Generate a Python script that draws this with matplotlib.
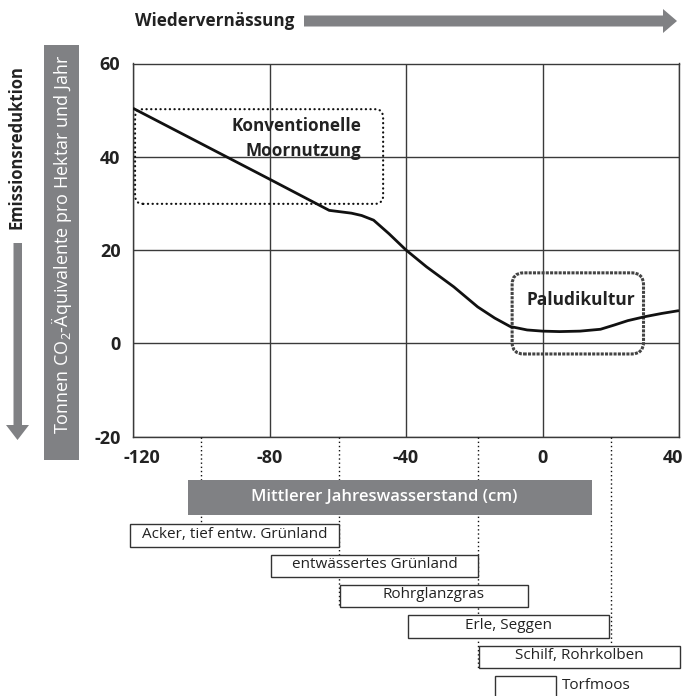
import numpy as np
import matplotlib
matplotlib.use("Agg")
import matplotlib.pyplot as plt
from matplotlib.patches import FancyBboxPatch, Polygon, Rectangle
from matplotlib.transforms import ScaledTranslation

plt.rcParams["font.family"] = ["Open Sans", "DejaVu Sans"]
plt.rcParams["mathtext.fontset"] = "custom"
plt.rcParams["mathtext.rm"] = "Open Sans"

# emission curve (water level cm, t CO2-eq / ha / yr)
water_level = [-120, -100, -80, -62.5, -56, -53, -49.5, -45, -40, -34, -26, -19,
               -14, -9.5, -4.5, 0, 5, 11, 17, 21, 25, 30, 35, 40]
emissions = [50.4, 42.8, 35.2, 28.5, 27.9, 27.4, 26.4, 23.5, 20.0, 16.4, 12.1, 7.8,
             5.4, 3.6, 2.85, 2.6, 2.5, 2.6, 3.0, 3.9, 4.85, 5.7, 6.4, 7.0]

x_ticks = [-120, -80, -40, 0, 40]
y_ticks = [-20, 0, 20, 40, 60]

# land use ranges along the water level axis
uses = ["Acker, tief entw. Grünland", "entwässertes Grünland", "Rohrglanzgras",
        "Erle, Seggen", "Schilf, Rohrkolben", "Torfmoos"]
use_start = [-121, -79.5, -59.3, -39.3, -18.5, -14]
use_end = [-59.5, -19, -4.3, 19.5, 40.3, 4]

# dotted guide lines under the axis and the row where each one ends
guide_x = [-100, -59.5, -19, 20]
guide_end = [-0.37, 2.37, 4.37, 3.6]

band_start, band_end = -104, 14.4

GRAY = "#808184"
DARK = "#3a3a3a"
TXT = "#222222"

fig = plt.figure(figsize=(6.84, 6.96), dpi=100)

# main chart
ax = fig.add_axes([133 / 684, (696 - 436.5) / 696, 546 / 684, 373 / 696])
ax.set_xlim(-120, 40)
ax.set_ylim(-20, 60)
ax.grid(True, color=DARK, linewidth=1.0)
ax.set_axisbelow(True)
for s in ax.spines.values():
    s.set_color(DARK)
    s.set_linewidth(1.0)
ax.plot(water_level, emissions, color="#111111", linewidth=2.0,
        solid_capstyle="butt", solid_joinstyle="round", zorder=3)

ax.set_xticks(x_ticks)
ax.set_yticks(y_ticks)
ax.set_xticklabels([str(v) for v in x_ticks], fontsize=13, fontweight="bold", color=TXT)
ax.set_yticklabels([str(v) for v in y_ticks], fontsize=13, fontweight="bold", color=TXT)
ax.tick_params(length=0)
ax.tick_params(axis="x", pad=9)
ax.tick_params(axis="y", pad=9)
xl = ax.get_xticklabels()
xl[0].set_transform(xl[0].get_transform() + ScaledTranslation(9 / 100, 0, fig.dpi_scale_trans))
xl[-1].set_transform(xl[-1].get_transform() + ScaledTranslation(-6 / 100, 0, fig.dpi_scale_trans))

# rounded boxes
conv = FancyBboxPatch((-119.4, 29.9), 72.7, 20.3,
                      boxstyle="round,pad=0,rounding_size=2.4", mutation_aspect=0.731,
                      facecolor="none", edgecolor="#111111", linewidth=1.6,
                      linestyle=(0, (0.1, 2.0)), capstyle="round", zorder=2)
ax.add_patch(conv)
ax.text(-53.2, 45.5, "Konventionelle", ha="right", va="baseline",
        fontsize=12.3, fontweight="bold", color=TXT, zorder=4)
ax.text(-53.2, 40.1, "Moornutzung", ha="right", va="baseline",
        fontsize=12.3, fontweight="bold", color=TXT, zorder=4)

palu = FancyBboxPatch((-8.9, -2.3), 38.5, 17.4,
                      boxstyle="round,pad=0,rounding_size=3.4", mutation_aspect=0.731,
                      facecolor="none", edgecolor="#444444", linewidth=2.2,
                      linestyle=(0, (1.0, 0.4)), zorder=2)
ax.add_patch(palu)
ax.text(11.1, 8.2, "Paludikultur", ha="center", va="baseline",
        fontsize=12.5, fontweight="bold", color=TXT, zorder=4)

# lower panel: water level band and land use boxes
ax2 = fig.add_axes([133 / 684, 0, 546 / 684, 259.5 / 696])
ax2.set_xlim(-120, 40)
ax2.set_ylim(5.29, -3.27)
ax2.axis("off")

ax2.vlines(guide_x, -3.27, guide_end, colors="#111111", linewidth=1.0,
           linestyles=(0, (1, 2)), zorder=1)

ax2.add_patch(Rectangle((band_start, -1.26 - 0.572), band_end - band_start, 1.145,
                        facecolor=GRAY, edgecolor="none", zorder=3, clip_on=False))
ax2.text((band_start + band_end) / 2 - 1.5, -1.26, "Mittlerer Jahreswasserstand (cm)",
         ha="center", va="center", fontsize=12, fontweight="semibold", color="white", zorder=4)

rows = np.arange(len(uses))
widths = np.array(use_end) - np.array(use_start)
ax2.barh(rows, widths, left=use_start, height=0.74, facecolor="white",
         edgecolor="#333333", linewidth=1.0, zorder=3, clip_on=False)
for i, name in enumerate(uses):
    if name == "Torfmoos":
        ax2.text(use_end[i] + 1.8, i - 0.05, name, ha="left", va="center",
                 fontsize=11, color=TXT, zorder=4)
    else:
        ax2.text((use_start[i] + use_end[i]) / 2, i - 0.05, name, ha="center",
                 va="center", fontsize=11, color=TXT, zorder=4)

# decorations in figure pixel space
deco = fig.add_axes([0, 0, 1, 1])
deco.set_xlim(0, 684)
deco.set_ylim(696, 0)
deco.axis("off")

deco.text(135, 21, "Wiedervernässung", ha="left", va="center",
          fontsize=12.3, fontweight="bold", color=TXT)
deco.add_patch(Polygon([(304, 15.5), (663, 15.5), (663, 9), (677, 21), (663, 33),
                        (663, 26.5), (304, 26.5)], closed=True, facecolor=GRAY,
                       edgecolor="none"))

deco.text(17, 147, "Emissionsreduktion", rotation=90, ha="center", va="center",
          fontsize=12, fontweight="bold", color=TXT)
deco.add_patch(Polygon([(13.5, 243), (22, 243), (22, 425), (29, 425), (17.5, 440),
                        (6, 425), (13.5, 425)], closed=True, facecolor=GRAY,
                       edgecolor="none"))

deco.add_patch(Rectangle((44, 45), 35, 415, facecolor=GRAY, edgecolor="none"))
deco.text(61.5, 244, "Tonnen CO$_2$-Äquivalente pro Hektar und Jahr", rotation=90,
          ha="center", va="center", fontsize=13, color="white")

fig.savefig("out.png", dpi=100)
